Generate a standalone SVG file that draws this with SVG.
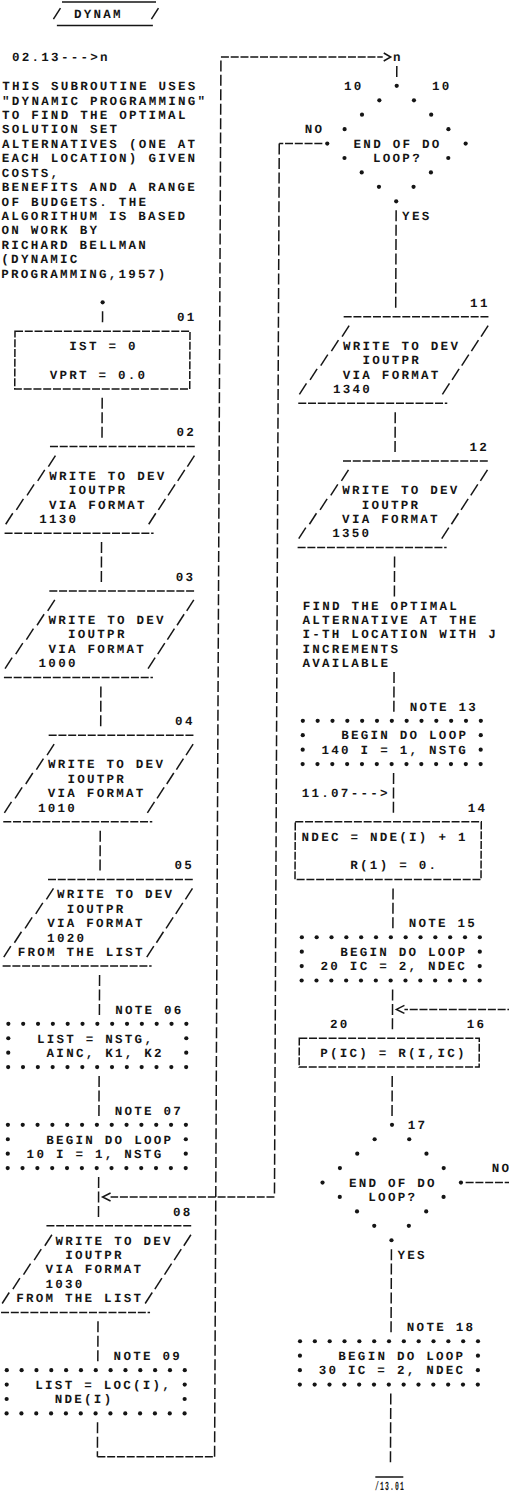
<svg xmlns="http://www.w3.org/2000/svg" xmlns:xlink="http://www.w3.org/1999/xlink" width="509" height="1491" viewBox="0 0 509 1491" xml:space="preserve">
<style>
text{font-family:"Liberation Mono","DejaVu Sans Mono",monospace;font-size:12.5px;font-weight:700;fill:#151515;letter-spacing:2.27px}
.l{stroke:#151515;stroke-width:1.5;fill:none}
.h{stroke-dasharray:8 1.77}
.v{stroke-dasharray:11 3.43}
</style>
<defs>
<path id="sl" d="M-3.5,5.5L3.5,-5.5" stroke="#151515" stroke-width="1.5" fill="none"/>
<circle id="st" r="2.1" fill="#151515"/>
<g id="starrow">
<use href="#st" x="0"/><use href="#st" x="14.83"/><use href="#st" x="29.67"/><use href="#st" x="44.5"/><use href="#st" x="59.33"/><use href="#st" x="74.17"/><use href="#st" x="89"/><use href="#st" x="103.83"/><use href="#st" x="118.67"/><use href="#st" x="133.5"/><use href="#st" x="148.33"/><use href="#st" x="163.17"/><use href="#st" x="178"/>
</g>
<g id="note">
<use href="#starrow" y="0"/>
<use href="#st" x="0" y="14.43"/><use href="#st" x="178" y="14.43"/>
<use href="#st" x="0" y="28.86"/><use href="#st" x="178" y="28.86"/>
<use href="#starrow" y="43.29"/>
</g>
<g id="para">
<path d="M52,0H197" stroke="#151515" stroke-width="1.5" stroke-dasharray="8 1.77" fill="none"/>
<use href="#sl" x="54" y="14.43"/><use href="#sl" x="43.4" y="28.86"/><use href="#sl" x="32.8" y="43.29"/><use href="#sl" x="22.2" y="57.72"/><use href="#sl" x="11.6" y="72.15"/>
<use href="#sl" x="193" y="14.43"/><use href="#sl" x="183.4" y="28.86"/><use href="#sl" x="173.8" y="43.29"/><use href="#sl" x="164.2" y="57.72"/><use href="#sl" x="154.6" y="72.15"/>
<path d="M7,86.58H156" stroke="#151515" stroke-width="1.5" stroke-dasharray="8 1.77" fill="none"/>
</g>
<g id="dia">
<use href="#st" x="0" y="0"/>
<use href="#st" x="-17.3" y="14.43"/><use href="#st" x="17.3" y="14.43"/>
<use href="#st" x="-34.6" y="28.86"/><use href="#st" x="34.6" y="28.86"/>
<use href="#st" x="-51.9" y="43.29"/><use href="#st" x="51.9" y="43.29"/>
<use href="#st" x="-69.2" y="57.72"/><use href="#st" x="69.2" y="57.72"/>
<use href="#st" x="-51.9" y="72.15"/><use href="#st" x="51.9" y="72.15"/>
<use href="#st" x="-34.6" y="86.58"/><use href="#st" x="34.6" y="86.58"/>
<use href="#st" x="-17.3" y="101.01"/><use href="#st" x="17.3" y="101.01"/>
<use href="#st" x="0" y="115.44"/>
</g>
</defs>
<rect width="509" height="1491" fill="#ffffff"/>
<g transform="skewX(-0.26)">

<g id="n-title">
<path class="l" d="M62,2H156" stroke-width="2.2"/>
<use href="#sl" x="57" y="13.7"/><use href="#sl" x="155" y="13.7"/>
<text x="74" y="18">DYNAM</text>
<path class="l" d="M57,25.5H153" stroke-width="2.5"/>
</g>

<g id="n-comment">
<text x="12.32" y="61.3">02.13---&gt;n</text>
<text x="2.55" y="90.16">THIS SUBROUTINE USES</text>
<text x="2.55" y="104.59">"DYNAMIC PROGRAMMING"</text>
<text x="2.55" y="119.02">TO FIND THE OPTIMAL</text>
<text x="2.55" y="133.45">SOLUTION SET</text>
<text x="2.55" y="147.88">ALTERNATIVES (ONE AT</text>
<text x="2.55" y="162.31">EACH LOCATION) GIVEN</text>
<text x="2.55" y="176.74">COSTS,</text>
<text x="2.55" y="191.17">BENEFITS AND A RANGE</text>
<text x="2.55" y="205.6">OF BUDGETS.  THE</text>
<text x="2.55" y="220.03">ALGORITHUM IS BASED</text>
<text x="2.55" y="234.46">ON WORK BY</text>
<text x="2.55" y="248.89">RICHARD BELLMAN</text>
<text x="2.55" y="263.32">(DYNAMIC</text>
<text x="2.55" y="277.75">PROGRAMMING,1957)</text>
</g>

<g id="n-start"><use href="#st" x="104" y="302.31"/></g>

<g id="n-01">
<text x="178.41" y="321.04">01</text>
<path class="l h" d="M16.5,331.17H191.5V388.89H16.5Z"/>
<text x="70.94" y="349.9">IST = 0</text>
<text x="51.4" y="378.76">VPRT = 0.0</text>
</g>

<g id="n-02">
<text x="178.41" y="436.48">02</text>
<use href="#para" y="446.61"/>
<text x="51.4" y="479.77">WRITE TO DEV</text>
<text x="70.94" y="494.2">IOUTPR</text>
<text x="51.4" y="508.63">VIA FORMAT</text>
<text x="41.63" y="523.06">1130</text>
</g>

<g id="n-03">
<text x="178.41" y="580.78">03</text>
<use href="#para" y="590.91"/>
<text x="51.4" y="624.07">WRITE TO DEV</text>
<text x="70.94" y="638.5">IOUTPR</text>
<text x="51.4" y="652.93">VIA FORMAT</text>
<text x="41.63" y="667.36">1000</text>
</g>

<g id="n-04">
<text x="178.41" y="725.08">04</text>
<use href="#para" y="735.21"/>
<text x="51.4" y="768.37">WRITE TO DEV</text>
<text x="70.94" y="782.8">IOUTPR</text>
<text x="51.4" y="797.23">VIA FORMAT</text>
<text x="41.63" y="811.66">1010</text>
</g>

<g id="n-05">
<text x="178.41" y="869.38">05</text>
<use href="#para" y="879.51"/>
<text x="61.17" y="898.24">WRITE TO DEV</text>
<text x="70.94" y="912.67">IOUTPR</text>
<text x="51.4" y="927.1">VIA FORMAT</text>
<text x="51.4" y="941.53">1020</text>
<text x="22.09" y="955.96">FROM THE LIST</text>
</g>

<g id="n-06">
<text x="119.79" y="1013.68">NOTE  06</text>
<use href="#note" x="13" y="1023.81"/>
<text x="41.63" y="1042.54">LIST = NSTG,</text>
<text x="51.4" y="1056.97">AINC, K1, K2</text>
</g>

<g id="n-07">
<text x="119.79" y="1114.69">NOTE  07</text>
<use href="#note" x="13" y="1124.82"/>
<text x="51.4" y="1143.55">BEGIN DO LOOP</text>
<text x="31.86" y="1157.98">10 I = 1, NSTG</text>
</g>

<g id="n-08">
<text x="178.41" y="1215.7">08</text>
<use href="#para" y="1225.83"/>
<text x="61.17" y="1244.56">WRITE TO DEV</text>
<text x="70.94" y="1258.99">IOUTPR</text>
<text x="51.4" y="1273.42">VIA FORMAT</text>
<text x="51.4" y="1287.85">1030</text>
<text x="22.09" y="1302.28">FROM THE LIST</text>
</g>

<g id="n-09">
<text x="119.79" y="1360">NOTE  09</text>
<use href="#note" x="13" y="1370.13"/>
<text x="41.63" y="1388.86">LIST = LOC(I),</text>
<text x="61.17" y="1403.29">NDE(I)</text>
</g>

<g id="n-10">
<text x="344.5" y="90.16">10</text>
<text x="432.4" y="90.16">10</text>
<use href="#dia" x="397.1" y="85.86"/>
<text x="354.27" y="147.88">END OF DO</text>
<text x="373.81" y="162.31">LOOP?</text>
</g>

<g id="n-11">
<text x="471.51" y="306.61">11</text>
<use href="#para" x="293.1" y="316.74"/>
<text x="344.5" y="349.9">WRITE TO DEV</text>
<text x="364.04" y="364.33">IOUTPR</text>
<text x="344.5" y="378.76">VIA FORMAT</text>
<text x="334.73" y="393.19">1340</text>
</g>

<g id="n-12">
<text x="471.51" y="450.91">12</text>
<use href="#para" x="293.1" y="461.04"/>
<text x="344.5" y="494.2">WRITE TO DEV</text>
<text x="364.04" y="508.63">IOUTPR</text>
<text x="344.5" y="523.06">VIA FORMAT</text>
<text x="334.73" y="537.49">1350</text>
</g>

<g id="n-find">
<text x="305.42" y="609.64">FIND THE OPTIMAL</text>
<text x="305.42" y="624.07">ALTERNATIVE AT THE</text>
<text x="305.42" y="638.5">I-TH LOCATION WITH J</text>
<text x="305.42" y="652.93">INCREMENTS</text>
<text x="305.42" y="667.36">AVAILABLE</text>
</g>

<g id="n-13">
<text x="412.89" y="710.65">NOTE  13</text>
<use href="#note" x="306.1" y="720.78"/>
<text x="344.5" y="739.51">BEGIN DO LOOP</text>
<text x="324.96" y="753.94">140 I = 1, NSTG</text>
</g>

<g id="n-14">
<text x="471.51" y="811.66">14</text>
<path class="l h" d="M299,821.79H485V879.51H299Z"/>
<text x="305.42" y="840.52">NDEC = NDE(I) + 1</text>
<text x="354.27" y="869.38">R(1) = 0.</text>
</g>

<g id="n-15">
<text x="412.89" y="927.1">NOTE  15</text>
<use href="#note" x="306.1" y="937.23"/>
<text x="344.5" y="955.96">BEGIN DO LOOP</text>
<text x="324.96" y="970.39">20 IC = 2, NDEC</text>
</g>

<g id="n-16">
<text x="334.73" y="1028.11">20</text>
<text x="471.51" y="1028.11">16</text>
<path class="l h" d="M304,1038.24H484V1067.1H304Z"/>
<text x="324.96" y="1056.97">P(IC) = R(I,IC)</text>
</g>

<g id="n-17">
<use href="#dia" x="397.1" y="1124.82"/>
<text x="412.89" y="1129.12">17</text>
<text x="354.27" y="1186.84">END OF DO</text>
<text x="373.81" y="1201.27">LOOP?</text>
</g>

<g id="n-18">
<text x="412.89" y="1331.14">NOTE  18</text>
<use href="#note" x="306.1" y="1341.27"/>
<text x="344.5" y="1360">BEGIN DO LOOP</text>
<text x="324.96" y="1374.43">30 IC = 2, NDEC</text>
</g>

<g id="n-exit">
<path class="l" d="M382,1477H410"/>
<text x="381.7" y="1489.87" textLength="30" lengthAdjust="spacingAndGlyphs">/13.01</text>
</g>

<g id="connectors">
<path class="l v" d="M104,311.24V322.24"/>
<path class="l v" d="M104,397.82V437.68"/>
<path class="l v" d="M104,542.12V581.98"/>
<path class="l v" d="M104,686.42V726.28"/>
<path class="l v" d="M104,830.72V870.58"/>
<path class="l v" d="M104,975.02V1014.88"/>
<path class="l v" d="M104,1076.03V1115.89"/>
<path class="l v" d="M104,1177.04V1216.9"/>
<path class="l v" d="M104,1321.34V1361.2"/>
<path class="l v" d="M104,1422.35V1456.71"/>
<path class="l h" d="M104,1456.71H221.2"/>
<path class="l v" d="M221.2,1456.71V57"/>
<path class="l h" d="M221.2,57H383"/>
<path class="l" d="M384,53L391,57L384,61"/>
<text x="393.35" y="61.3">n</text>
<path class="l v" d="M397.1,65.93V76.93"/>
<text x="305.42" y="133.45">NO</text>
<path class="l h" d="M323,143.58H279.9"/>
<path class="l v" d="M279.9,143.58V1196.97"/>
<path class="l h" d="M279.9,1196.97H116"/>
<path class="l" d="M116,1193L108,1196.97L116,1201"/>
<path class="l v" d="M397.1,210.23V307.81"/>
<text x="403.12" y="220.03">YES</text>
<path class="l v" d="M397.1,412.25V452.11"/>
<path class="l v" d="M397.1,556.55V596.41"/>
<path class="l v" d="M397.1,671.99V711.85"/>
<path class="l v" d="M397.1,773V812.86"/>
<text x="305.42" y="797.23">11.07---&gt;</text>
<path class="l v" d="M397.1,888.44V928.3"/>
<path class="l v" d="M397.1,989.45V1029.31"/>
<path class="l h" d="M520,1009.38H409"/>
<path class="l" d="M409,1005.4L401,1009.38L409,1013.4"/>
<path class="l v" d="M397.1,1076.03V1115.89"/>
<text x="497" y="1172.41">NO</text>
<path class="l h" d="M471,1182.54H520"/>
<path class="l v" d="M397.1,1249.19V1332.34"/>
<text x="403.12" y="1258.99">YES</text>
<path class="l v" d="M397.1,1393.49V1462.21"/>
</g>
</g>
</svg>
